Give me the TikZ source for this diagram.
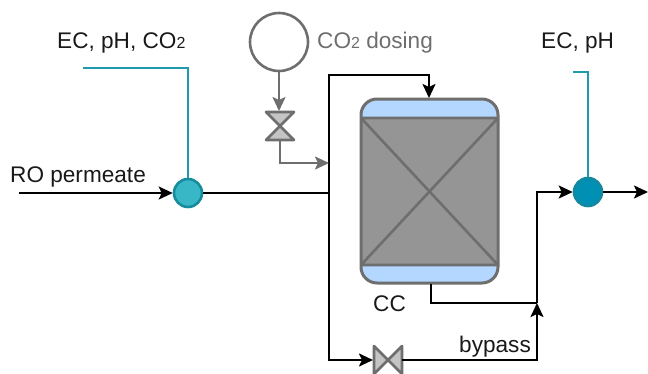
\documentclass[tikz,border=0pt]{standalone}
\usepackage{fontspec}
\setmainfont{Liberation Sans}
\usetikzlibrary{arrows.meta}
\definecolor{tealline}{HTML}{1F9BAD}
\definecolor{vgray}{HTML}{6E6E6E}
\definecolor{vfill}{HTML}{959595}
\definecolor{capblue}{HTML}{B3D7FF}
\definecolor{valvefill}{HTML}{C4C4C4}
\definecolor{sensA}{HTML}{38B8C6}
\definecolor{sensAd}{HTML}{178C9C}
\definecolor{sensB}{HTML}{0090B4}
\definecolor{sensBd}{HTML}{12899E}
\newcommand{\smallsub}[1]{{\fontsize{16}{16}\selectfont #1}}
\tikzset{
  x=1pt,y=-1pt,
  tip/.style={-{Stealth[length=14pt,width=13pt,inset=3pt]}},
  flow/.style={draw=black,line width=2.1pt,line join=miter,tip},
  pipe/.style={draw=black,line width=2.1pt,line join=miter},
  gasflow/.style={draw=vgray,line width=2.1pt,line join=miter,tip},
  signal/.style={draw=tealline,line width=2.1pt,line join=miter},
  label/.style={font=\fontsize{22.6}{24}\selectfont,text=black!90,inner sep=0pt,anchor=base west},
  graylabel/.style={label,text=vgray},
  sensorA/.style={circle,minimum size=28pt,inner sep=0pt,line width=2.6pt,draw=sensAd,fill=sensA},
  sensorB/.style={circle,minimum size=28pt,inner sep=0pt,line width=2.6pt,draw=sensBd,fill=sensB},
  tank/.style={circle,minimum size=58pt,inner sep=0pt,line width=2.6pt,draw=vgray,fill=white},
  valveshape/.style={draw=vgray,line width=2.6pt,fill=valvefill,line join=round},
}
\begin{document}
\begin{tikzpicture}
\useasboundingbox (0,0) rectangle (648,373);
\clip (0,0) rectangle (648,373);

% vessel
\begin{scope}
  \clip[rounded corners=16pt] (361,99) rectangle (498,283);
  \fill[capblue] (361,99) rectangle (498,283);
  \fill[vfill] (361,118) rectangle (498,265);
\end{scope}
\draw[vgray,line width=2.6pt] (361,118) -- (498,118) (361,265) -- (498,265) (361,118) -- (498,265) (498,118) -- (361,265);
\draw[vgray,line width=3pt,rounded corners=16pt] (361,99) rectangle (498,283);
\coordinate (vesselTop) at (429,98);
\coordinate (vesselOut) at (431,284);

% equipment nodes
\node[tank] (tank) at (279,42) {};
\node[sensorA] (s1) at (188,193) {};
\node[sensorB] (s2) at (588,192) {};

% valves
\coordinate (v1top) at (279,111);
\coordinate (v1bot) at (280,141);
\coordinate (v2l) at (373,360);
\coordinate (v2r) at (402,360);
\draw[valveshape] (266,112) -- (294,112) -- (266,140) -- (294,140) -- cycle;
\draw[valveshape] (374,346) -- (374,374) -- (402,346) -- (402,374) -- cycle;

% junctions
\coordinate (start) at (19,193);
\coordinate (junc) at (329,193);
\coordinate (gasIn) at (329,163);
\coordinate (topc) at (329,75);
\coordinate (botc) at (329,360);
\coordinate (merge) at (537,303);
\coordinate (outEnd) at (648,192);
\coordinate (sig1) at (83,68);
\coordinate (sig2) at (573,72);

% pipes
\draw[flow] (start) -- (s1.west);
\draw[pipe] (s1.east) -- (junc);
\draw[flow] (junc) |- (topc) -| (vesselTop);
\draw[flow] (junc) |- (v2l);
\draw[flow] (v2r) -| (merge);
\draw[pipe] (vesselOut) |- (merge);
\draw[flow] (merge) |- (s2.west);
\draw[flow] (s2.east) -- (outEnd);

% gas line
\draw[gasflow] (tank.south) -- (v1top);
\draw[gasflow] (v1bot) |- (gasIn);

% signals
\draw[signal] (sig1) -| (s1.north);
\draw[signal] (sig2) -| (s2.north);

% labels
\node[label] (lblA) at (57,48) {EC, pH, CO\smallsub{2}};
\node[graylabel] (lblB) at (317,48) {CO\smallsub{2} dosing};
\node[label] (lblC) at (541,48) {EC, pH};
\node[label] (lblD) at (10,182) {RO permeate};
\node[label] (lblE) at (373,311) {CC};
\node[label] (lblF) at (459,352) {bypass};
\end{tikzpicture}
\end{document}
